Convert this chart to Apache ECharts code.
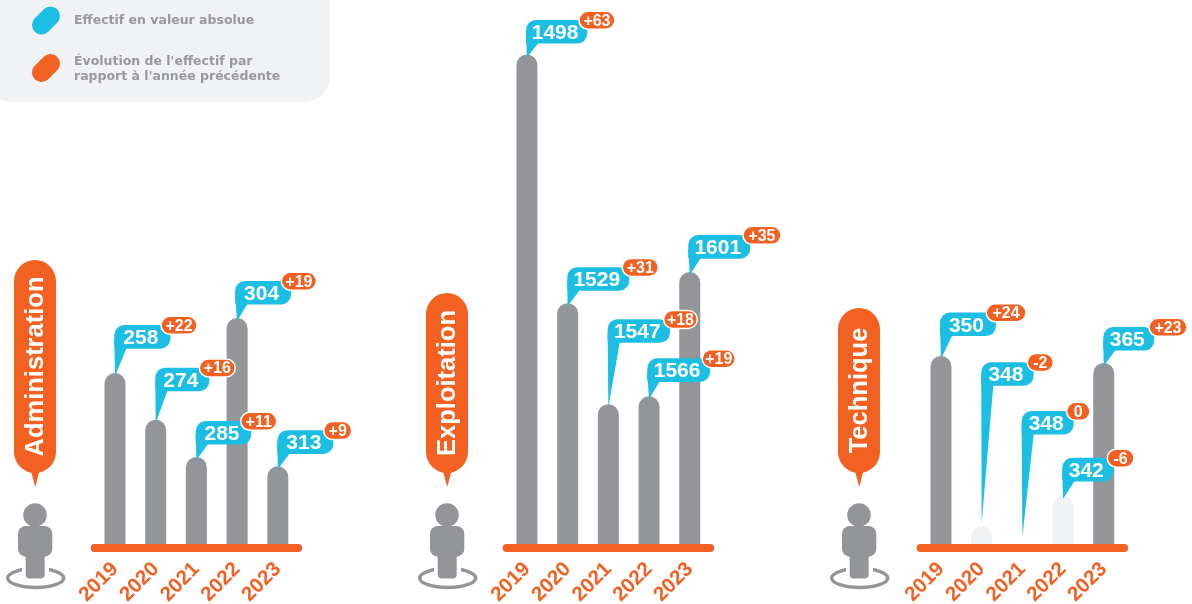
<!DOCTYPE html>
<html>
<head>
<meta charset="utf-8">
<style>
  html, body { margin: 0; padding: 0; background: #fff; }
  #container { width: 1192px; height: 604px; }
</style>
<script src="https://cdn.jsdelivr.net/npm/echarts@6/dist/echarts.min.js"></script>
</head>
<body>
<div id="container"></div>
<script>
const years = ['2019', '2020', '2021', '2022', '2023']
const groupNames = ['Administration', 'Exploitation', 'Technique']

// effectif en valeur absolue
const adminValues = [258, 274, 285, 304, 313]
const exploitValues = [1498, 1529, 1547, 1566, 1601]
const techValues = [350, 348, 348, 342, 365]

// évolution par rapport à l'année précédente
const adminEvolution = [22, 16, 11, 19, 9]
const exploitEvolution = [63, 31, 18, 19, 35]
const techEvolution = [24, -2, 0, -6, 23]

// hauteur des barres (même unité que l'évolution)
const adminBars = [22, 16, 11.2, 29.1, 10]
const exploitBars = [63, 31, 18, 19, 35]
const techBars = [24.2, 2.3, 0, 6.2, 23.3]

const ORANGE = '#f26122'
const BLUE = '#1cbfe3'
const GREY = '#939598'
const LIGHT = '#f1f2f4'
const FONT = '"Liberation Sans", Arial, sans-serif'

// [décalage gauche, montée au-dessus de la barre, largeur bulle, décalage pastille, largeur pastille, pointe]
const adminCallouts = [
  [-0.7, 48, 56, 46.7, 36, 3],
  [-0.4, 52, 54, 44, 36, 3],
  [-0.7, 36, 55.6, 45, 36, 3],
  [-2, 37, 56, 46.3, 35, 3],
  [-0.5, 36, 56, 46.4, 28, 3]
]
const exploitCallouts = [
  [-1, 34.5, 61.3, 53, 36, 3],
  [-0.4, 36, 62, 55, 36, 3],
  [-0.7, 85, 62.3, 56, 33.6, 3],
  [-1.8, 38, 62.7, 55, 33, 3],
  [-1.5, 37, 62, 54.7, 38, 3]
]
const techCallouts = [
  [-1, 43.5, 56, 46.3, 39.7, 3],
  [-0.4, 164, 52.4, 46, 26, -3],
  [-0.7, 133, 52, 45, 23.3, -7],
  [-0.8, 38, 51, 45, 26.7, 3],
  [-0.5, 36, 51, 45.7, 38, 3]
]

const groups = [
  { values: adminValues, evolution: adminEvolution, bars: adminBars, callouts: adminCallouts, left: 94.65, shift: 0, pillTop: 260 },
  { values: exploitValues, evolution: exploitEvolution, bars: exploitBars, callouts: exploitCallouts, left: 506.6, shift: 412, pillTop: 293 },
  { values: techValues, evolution: techEvolution, bars: techBars, callouts: techCallouts, left: 920.6, shift: 824, pillTop: 308 }
]

const BASE_Y = 544
const PX_PER_UNIT = 7.77
const Y_MAX = 68
const gridHeight = Y_MAX * PX_PER_UNIT

function formatEvolution (v) {
  return v > 0 ? '+' + v : String(v)
}

function calloutRenderer (group) {
  return function (params, api) {
    const i = api.value(0)
    const p = api.coord([i, api.value(1)])
    const c = group.callouts[i]
    const l = p[0] + c[0]
    const t = p[1] - c[1]
    const w = c[2]
    const h = 23.6
    return {
      type: 'group',
      children: [
        {
          type: 'rect',
          shape: { x: l, y: t, width: w, height: h, r: [10, 10, 10, 2] },
          style: { fill: BLUE }
        },
        {
          type: 'polygon',
          shape: { points: [[l, t + h - 10], [l + 12, t + h - 1], [l + 12, t + h], [p[0], p[1] + c[5]]] },
          style: { fill: BLUE }
        },
        {
          type: 'text',
          x: l + w / 2 - 1.5,
          y: t + h / 2 + 1.5,
          style: {
            text: String(group.values[i]),
            fill: '#fff',
            font: 'bold 21px ' + FONT,
            align: 'center',
            verticalAlign: 'middle'
          }
        },
        {
          type: 'rect',
          shape: { x: l + c[3], y: t - 8.7, width: c[4], height: 18, r: 9 },
          style: { fill: ORANGE, stroke: '#fff', lineWidth: 1.5 }
        },
        {
          type: 'text',
          x: l + c[3] + c[4] / 2,
          y: t - 8.7 + 10,
          style: {
            text: formatEvolution(group.evolution[i]),
            fill: '#fff',
            font: 'bold 16px ' + FONT,
            align: 'center',
            verticalAlign: 'middle'
          }
        }
      ]
    }
  }
}

function personElements (group, name) {
  const dx = group.shift
  return [
    { type: 'ellipse', shape: { cx: 35.7 + dx, cy: 578, rx: 28, ry: 9.5 }, style: { fill: 'none', stroke: GREY, lineWidth: 3.4 } },
    { type: 'rect', shape: { x: 22 + dx, y: 562, width: 27, height: 14 }, style: { fill: '#fff' } },
    { type: 'circle', shape: { cx: 35 + dx, cy: 515, r: 11.8 }, style: { fill: GREY } },
    { type: 'rect', shape: { x: 18 + dx, y: 526, width: 34.3, height: 30.7, r: 8 }, style: { fill: GREY } },
    { type: 'rect', shape: { x: 25.7 + dx, y: 550, width: 19, height: 28.5, r: 4 }, style: { fill: GREY } },
    { type: 'polygon', shape: { points: [[30.5 + dx, 469], [40 + dx, 469], [35.2 + dx, 487]] }, style: { fill: ORANGE } },
    { type: 'rect', shape: { x: 14 + dx, y: group.pillTop, width: 42, height: 473 - group.pillTop, r: 21 }, style: { fill: ORANGE } },
    {
      type: 'text',
      x: 35.5 + dx,
      y: (group.pillTop + 473) / 2,
      rotation: Math.PI / 2,
      style: {
        text: name,
        fill: '#fff',
        font: 'bold 25.5px ' + FONT,
        align: 'center',
        verticalAlign: 'middle'
      }
    }
  ]
}

const legendFont = 'bold 12.5px "DejaVu Sans", sans-serif'
const legendElements = [
  { type: 'rect', shape: { x: -14, y: -30, width: 344, height: 132, r: 26 }, style: { fill: LIGHT } },
  { type: 'line', shape: { x1: 41.5, y1: 25, x2: 50.5, y2: 16 }, style: { stroke: BLUE, lineWidth: 19, lineCap: 'round' } },
  { type: 'line', shape: { x1: 41.5, y1: 72.5, x2: 50.5, y2: 63.5 }, style: { stroke: ORANGE, lineWidth: 19, lineCap: 'round' } },
  {
    type: 'text', x: 74, y: 21,
    style: { text: 'Effectif en valeur absolue', fill: '#98999c', font: legendFont, verticalAlign: 'middle' }
  },
  {
    type: 'text', x: 74, y: 62,
    style: { text: "Évolution de l'effectif par", fill: '#98999c', font: legendFont, verticalAlign: 'middle' }
  },
  {
    type: 'text', x: 74, y: 77,
    style: { text: "rapport à l'année précédente", fill: '#98999c', font: legendFont, verticalAlign: 'middle' }
  }
]

const option = {
  animation: false,
  grid: groups.map(g => ({
    left: g.left,
    width: 203.5,
    top: BASE_Y - gridHeight,
    height: gridHeight,
    outerBoundsMode: 'none'
  })),
  xAxis: groups.map((g, k) => ({
    type: 'category',
    gridIndex: k,
    data: years,
    offset: 4,
    axisTick: { show: false },
    axisLine: { onZero: false, lineStyle: { color: ORANGE, width: 8, cap: 'round' } },
    axisLabel: {
      interval: 0,
      rotate: 45,
      margin: 18,
      padding: [11, 0, 0, 0],
      color: ORANGE,
      fontFamily: FONT,
      fontWeight: 'bold',
      fontSize: 20.5
    }
  })),
  yAxis: groups.map((g, k) => ({ type: 'value', gridIndex: k, min: 0, max: Y_MAX, show: false })),
  series: groups.flatMap((g, k) => [
    {
      type: 'bar',
      xAxisIndex: k,
      yAxisIndex: k,
      barWidth: 21,
      silent: true,
      z: 1,
      data: g.bars.map((v, i) => ({
        value: v,
        itemStyle: {
          color: g.evolution[i] < 0 ? LIGHT : GREY,
          borderRadius: [10.5, 10.5, 0, 0]
        }
      }))
    },
    {
      type: 'custom',
      xAxisIndex: k,
      yAxisIndex: k,
      clip: false,
      silent: true,
      z: 5,
      encode: { x: 0, y: 1 },
      renderItem: calloutRenderer(g),
      data: g.bars.map((v, i) => [i, v])
    }
  ]),
  graphic: {
    elements: legendElements.concat(groups.flatMap((g, k) => personElements(g, groupNames[k])))
  }
}

const myChart = echarts.init(document.getElementById('container'))
myChart.setOption(option)
</script>
</body>
</html>
